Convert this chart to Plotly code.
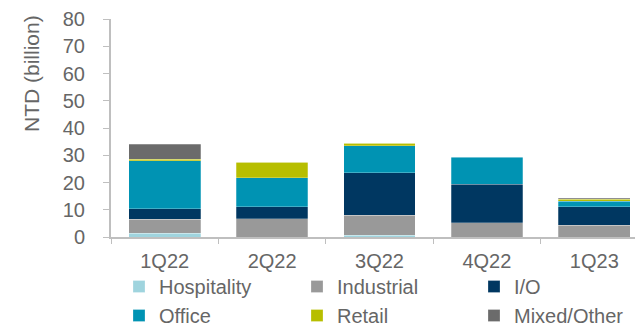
import plotly.graph_objects as go

quarters = ["1Q22", "2Q22", "3Q22", "4Q22", "1Q23"]
hospitality = [1.3, 0.0, 0.6, 0.0, 0.0]
industrial = [5.2, 6.7, 7.4, 5.3, 4.3]
io = [3.8, 4.4, 15.6, 14.0, 6.8]
office = [17.6, 10.7, 9.9, 9.9, 2.1]
retail = [0.6, 5.7, 0.9, 0.2, 0.6]
mixed = [5.6, 0.0, 0.0, 0.0, 0.4]

series = [
    ("Hospitality", hospitality, "#9FD4DE", "legend"),
    ("Industrial", industrial, "#999999", "legend2"),
    ("I/O", io, "#003761", "legend3"),
    ("Office", office, "#0093B3", "legend"),
    ("Retail", retail, "#B7BE00", "legend2"),
    ("Mixed/Other", mixed, "#6B6B6B", "legend3"),
]

FONT = "Liberation Sans, Arial, sans-serif"
TXT = "#666666"
FS = 20

fig = go.Figure()
for name, vals, col, lg in series:
    fig.add_trace(go.Bar(
        name=name, x=quarters, y=vals, legend=lg,
        marker=dict(color=col, line=dict(color="rgba(255,255,255,0.5)", width=0.5)),
    ))


def leg(xpx):
    return dict(
        orientation="v",
        x=xpx / 635, xanchor="left", xref="container",
        y=1 - 267 / 324, yanchor="top", yref="container",
        font=dict(family=FONT, size=FS, color=TXT),
        traceorder="normal",
        itemclick=False, itemdoubleclick=False,
        bgcolor="rgba(0,0,0,0)",
        tracegroupgap=0,
    )


fig.update_layout(
    barmode="stack",
    bargap=0.333,
    width=635, height=324,
    margin=dict(l=111, r=0, t=19, b=87, autoexpand=False),
    paper_bgcolor="white", plot_bgcolor="white",
    font=dict(family=FONT, size=FS, color=TXT),
    showlegend=True,
    legend=leg(119),
    legend2=leg(297),
    legend3=leg(474),
    xaxis=dict(
        type="category",
        range=[-0.5, 4.379],
        showline=True, linecolor="#BFBFBF", linewidth=2,
        ticks="outside", tickson="boundaries", ticklen=5, tickcolor="#BFBFBF", tickwidth=1,
        ticklabelstandoff=5,
        showgrid=False, zeroline=False,
        tickfont=dict(family=FONT, size=FS, color=TXT),
    ),
    yaxis=dict(
        range=[0, 80], dtick=10,
        showline=True, linecolor="#BFBFBF", linewidth=2,
        ticks="outside", ticklen=6, tickcolor="#BFBFBF", tickwidth=1,
        ticklabelstandoff=14,
        showgrid=False, zeroline=False,
        tickfont=dict(family=FONT, size=FS, color=TXT),
    ),
    annotations=[dict(
        text="NTD (billion)", textangle=-90,
        xref="paper", yref="paper",
        x=-(111 - 32) / 524, y=1 - (74 - 19) / 218,
        xanchor="center", yanchor="middle",
        showarrow=False,
        font=dict(family=FONT, size=FS + 1, color=TXT),
    )],
)

fig.write_html("out.html")
